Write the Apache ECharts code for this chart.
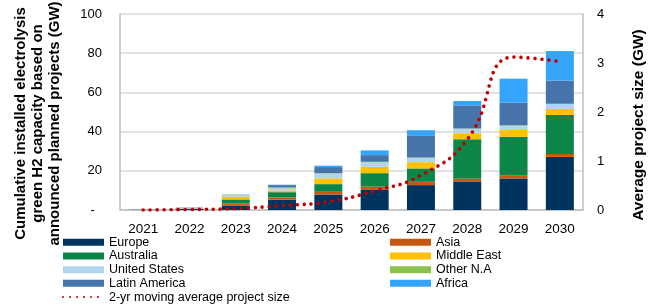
<!DOCTYPE html>
<html>
<head>
<meta charset="utf-8">
<script src="https://cdn.jsdelivr.net/npm/echarts@6/dist/echarts.min.js"></script>
<style>
  html, body { margin: 0; padding: 0; background: #fff; }
  #chart { width: 656px; height: 308px; }
</style>
</head>
<body>
<div id="chart"></div>
<script>
YEARS = ['2021', '2022', '2023', '2024', '2025', '2026', '2027', '2028', '2029', '2030'];

EUROPE = [0.1, 0.5, 2.3, 5.2, 7.9, 10.5, 12.7, 14.6, 16.1, 27.1];
ASIA = [0, 0.1, 1.1, 1.2, 1.4, 1.4, 1.7, 1.3, 1.7, 1.5];
AUSTRALIA = [0, 0.1, 2.0, 2.7, 3.9, 6.9, 6.8, 20.2, 19.6, 19.9];
MIDDLE_EAST = [0, 0, 1.4, 0.9, 2.9, 3.2, 3.2, 3.1, 3.4, 3.0];
UNITED_STATES = [0, 0.3, 0.8, 1.1, 2.5, 2.4, 2.2, 2.2, 2.2, 2.6];
OTHER_NA = [0, 0, 0, 0.6, 0.2, 0.2, 0.2, 0.2, 0.2, 0.1];
LATIN_AMERICA = [0, 0.2, 0.2, 1.0, 3.1, 3.4, 11.3, 11.8, 11.6, 11.8];
AFRICA = [0, 0, 0, 0.2, 0.7, 2.4, 2.6, 2.2, 12.2, 15.1];

AVG_SIZE = [0, 0.01, 0.03, 0.09, 0.17, 0.39, 0.71, 1.44, 3.12, 3.03];

LEFT_TICKS = [0, 20, 40, 60, 80, 100];
RIGHT_TICKS = [0, 1, 2, 3, 4];

var FONT = 'Liberation Sans';
var LINE_NAME = '2-yr moving average project size';

function barSeries(name, data, color) {
	return {
		name: name,
		type: 'bar',
		stack: 'total',
		barWidth: 28,
		data: data,
		itemStyle: { color: color },
		emphasis: { disabled: true }
	};
}

var series = [
	barSeries('Europe', EUROPE, '#00345f'),
	barSeries('Asia', ASIA, '#c65911'),
	barSeries('Australia', AUSTRALIA, '#0b8648'),
	barSeries('Middle East', MIDDLE_EAST, '#ffc000'),
	barSeries('United States', UNITED_STATES, '#b1d4ef'),
	barSeries('Other N.A', OTHER_NA, '#8bc34a'),
	barSeries('Latin America', LATIN_AMERICA, '#4674aa'),
	barSeries('Africa', AFRICA, '#35a4fd'),
	{
		name: LINE_NAME,
		type: 'line',
		yAxisIndex: 1,
		data: AVG_SIZE,
		smooth: 0.5,
		symbol: 'none',
		z: 5,
		lineStyle: { color: '#c00000', width: 3.6, type: [0.01, 7], cap: 'round' },
		itemStyle: { color: '#c00000' }
	}
];

var legendText = { fontFamily: FONT, fontSize: 12.5, color: '#000', lineHeight: 13.5 };

var option = {
	animation: false,
	textStyle: { fontFamily: FONT },
	grid: { left: 120, right: 73, top: 14, bottom: 98 },
	legend: [
		{
			orient: 'vertical', left: 62, top: 235.5, itemGap: 0.2, padding: 0,
			itemWidth: 41, itemHeight: 7, textStyle: legendText,
			data: [
				{ name: 'Europe', icon: 'rect' },
				{ name: 'Australia', icon: 'rect' },
				{ name: 'United States', icon: 'rect' },
				{ name: 'Latin America', icon: 'rect' },
				{ name: LINE_NAME, itemStyle: { color: 'rgba(0,0,0,0)', borderWidth: 0 } }
			]
		},
		{
			orient: 'vertical', left: 390, top: 235.5, itemGap: 0.2, padding: 0,
			itemWidth: 41, itemHeight: 7, textStyle: legendText,
			data: [
				{ name: 'Asia', icon: 'rect' },
				{ name: 'Middle East', icon: 'rect' },
				{ name: 'Other N.A', icon: 'rect' },
				{ name: 'Africa', icon: 'rect' }
			]
		}
	],
	xAxis: {
		type: 'category',
		data: YEARS,
		axisTick: { show: false },
		axisLine: { lineStyle: { color: '#bfbfbf', width: 1.5 } },
		axisLabel: { fontFamily: FONT, fontSize: 13.5, color: '#000', margin: 12 }
	},
	yAxis: [
		{
			type: 'value', min: LEFT_TICKS[0], max: LEFT_TICKS[LEFT_TICKS.length - 1], interval: 20,
			axisLine: { show: true, lineStyle: { color: '#bfbfbf', width: 1.5 } },
			axisTick: { show: false },
			splitLine: { lineStyle: { color: '#d9d9d9', width: 1.5 } },
			axisLabel: {
				fontFamily: FONT, fontSize: 13, color: '#000', margin: 18,
				formatter: function(v) { return v === 0 ? '-  ' : String(v); }
			}
		},
		{
			type: 'value', min: RIGHT_TICKS[0], max: RIGHT_TICKS[RIGHT_TICKS.length - 1], interval: 1,
			axisLine: { show: true, lineStyle: { color: '#bfbfbf', width: 1.5 } },
			axisTick: { show: false },
			splitLine: { show: false },
			axisLabel: { fontFamily: FONT, fontSize: 13, color: '#000', margin: 14 }
		}
	],
	graphic: [
		{
			type: 'text', x: 38, y: 123.5, rotation: Math.PI / 2,
			style: {
				text: 'Cumulative installed electrolysis\ngreen H2 capacity based on\nannounced planned projects (GW)',
				font: 'bold 15px "Liberation Sans"', fill: '#000',
				align: 'center', verticalAlign: 'middle', lineHeight: 17
			}
		},
		{
			type: 'text', x: 639, y: 125, rotation: Math.PI / 2,
			style: {
				text: 'Average project size (GW)',
				font: 'bold 15.5px "Liberation Sans"', fill: '#000',
				align: 'center', verticalAlign: 'middle'
			}
		}
	],
	series: series
};

var myChart = echarts.init(document.getElementById('chart'));
myChart.setOption(option);
</script>
</body>
</html>
